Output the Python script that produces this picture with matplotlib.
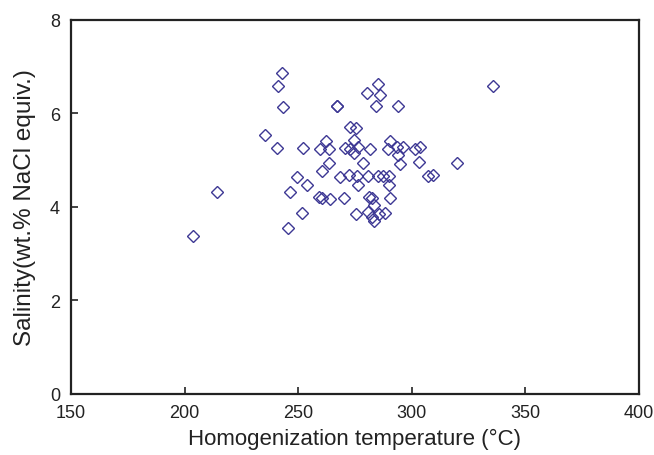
import matplotlib
matplotlib.use("Agg")
import matplotlib.pyplot as plt
from matplotlib import font_manager

temperature = [203.5, 214.3, 235.3, 240.5, 240.9, 242.7, 243.1, 245.4, 246.3, 249.6,
               251.5, 251.9, 253.8, 259.2, 260.3, 259.8, 262.3, 263.7, 260.6, 263.5,
               264.2, 267.0, 267.2, 268.6, 270.2, 270.8, 272.4, 272.9, 275.3, 274.5,
               272.7, 274.6, 276.5, 275.4, 275.7, 276.5, 278.6, 280.5, 280.8, 281.1,
               280.8, 281.8, 282.7, 282.3, 283.3, 283.5, 284.2, 285.1, 285.2, 286.2,
               285.7, 287.3, 288.4, 289.4, 290.2, 290.1, 289.9, 290.4, 293.3, 294.0,
               294.0, 295.0, 296.1, 301.5, 303.6, 303.1, 307.2, 309.2, 319.7, 335.9]
salinity = [3.37, 4.33, 5.54, 5.26, 6.58, 6.87, 6.13, 3.55, 4.33, 4.64,
            3.87, 5.26, 4.47, 4.21, 4.19, 5.25, 5.42, 5.25, 4.78, 4.95,
            4.17, 6.15, 6.15, 4.65, 4.19, 5.26, 4.68, 5.72, 5.70, 5.43,
            5.24, 5.16, 5.28, 3.86, 4.66, 4.46, 4.94, 6.44, 4.66, 4.22,
            3.89, 5.25, 4.19, 3.78, 4.05, 3.71, 6.15, 6.62, 4.66, 6.40,
            3.85, 4.67, 3.87, 5.24, 5.41, 4.66, 4.46, 4.19, 5.29, 6.15,
            5.12, 4.93, 5.28, 5.25, 5.28, 4.96, 4.66, 4.68, 4.94, 6.58]

x_ticks = [150, 200, 250, 300, 350, 400]
y_ticks = [0, 2, 4, 6, 8]
x_label = "Homogenization temperature (°C)"
y_label = "Salinity(wt.% NaCl equiv.)"

plt.rcParams['font.family'] = ['Liberation Sans', 'DejaVu Sans']
installed = {f.name for f in font_manager.fontManager.ttflist}
tick_family = ['Liberation Sans Narrow', 'Liberation Sans'] if 'Liberation Sans Narrow' in installed else ['Liberation Sans']
tick_size = 14.5 if 'Liberation Sans Narrow' in installed else 13.0

fig = plt.figure(figsize=(6.54, 4.56), dpi=100)
ax = fig.add_axes([0.1086, 0.1338, 0.977 - 0.1086, 0.954 - 0.1338])

ax.plot(temperature, salinity, linestyle='none', marker='D', markersize=5.8,
        markerfacecolor='none', markeredgecolor='#3d3894', markeredgewidth=1.0)

ax.set_xlim(150, 400)
ax.set_ylim(0, 8)
ax.set_xticks(x_ticks)
ax.set_yticks(y_ticks)
ax.tick_params(direction='in', length=5, width=1.2, colors='#222222',
               top=False, right=False)
ax.tick_params(axis='x', pad=7)
ax.tick_params(axis='y', pad=8)
for lab in ax.get_xticklabels() + ax.get_yticklabels():
    lab.set_family(tick_family)
    lab.set_fontsize(tick_size)
for sp in ax.spines.values():
    sp.set_linewidth(1.6)
    sp.set_color('#222222')

ax.set_xlabel(x_label, fontsize=16, color='#222222', labelpad=5)
ax.set_ylabel(y_label, fontsize=17.5, color='#222222', labelpad=10)

fig.savefig("out.png", dpi=100, facecolor='white')
